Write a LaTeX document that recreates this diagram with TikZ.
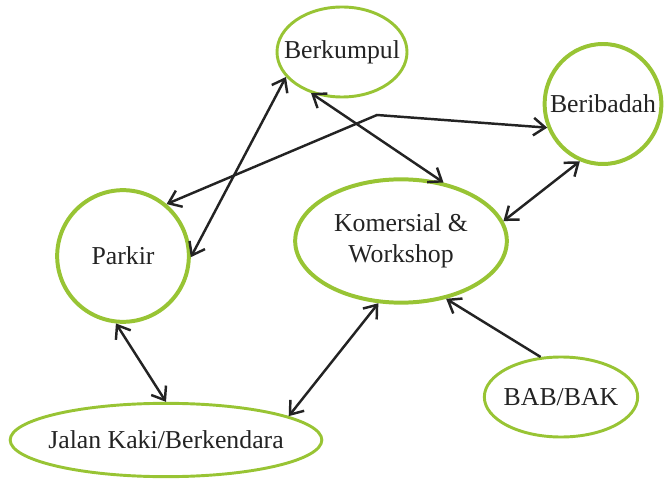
\documentclass[tikz,border=0pt]{standalone}
\usepackage{fontspec}
\setmainfont{Liberation Serif}
\usetikzlibrary{shapes.geometric,arrows.meta}
\definecolor{leaf}{RGB}{152,196,52}
\definecolor{ink}{RGB}{35,35,35}
\newcommand{\zbox}[1]{\makebox[0pt]{#1}}

\begin{document}
\begin{tikzpicture}[
  zone/.style={ellipse,draw=leaf,line width=2.5pt,inner sep=0pt,text=ink,
    font=\fontsize{22}{26}\selectfont},
  bigzone/.style={zone,line width=3.4pt},
  barb/.tip={Straight Barb[length=10pt,width=15pt]},
  link/.style={draw=ink,line width=2.1pt,barb-barb},
  onelink/.style={draw=ink,line width=2.1pt,-barb}]
  \useasboundingbox (0,0) rectangle (19.98,14.43);
  % Draw zones
  \node[zone,minimum width=3.9cm,minimum height=2.7cm] (berkumpul) at (10.26,12.87) {\zbox{Berkumpul}};
  \node[bigzone,minimum width=3.5cm,minimum height=3.6cm] (beribadah) at (18.09,11.31) {\zbox{Beribadah}};
  \node[bigzone,minimum width=3.95cm,minimum height=3.95cm] (parkir) at (3.69,6.75) {\zbox{Parkir}};
  \node[bigzone,minimum width=6.35cm,minimum height=3.7cm,align=center] (komersial) at (12.03,7.2) {Komersial \&\\Workshop};
  \node[zone,minimum width=4.6cm,minimum height=2.4cm] (bab) at (16.83,2.52) {\zbox{BAB/BAK}};
  \node[zone,minimum width=9.35cm,minimum height=2.2cm] (jalan) at (4.98,1.23) {\zbox{Jalan Kaki/Berkendara}};
  \coordinate (bend) at (11.31,10.98);
  % Draw links
  \draw[link] (parkir.-1) -- (berkumpul.204);
  \draw[link] (berkumpul.233) -- (komersial.54);
  \draw[link] (parkir.50) -- (bend) -- (beribadah.203);
  \draw[link] (komersial.11) -- (beribadah.248);
  \draw[link] (parkir.264) -- (jalan.90);
  \draw[link] (jalan.11) -- (komersial.250);
  \draw[onelink] (bab.117) -- (komersial.308);
\end{tikzpicture}
\end{document}
